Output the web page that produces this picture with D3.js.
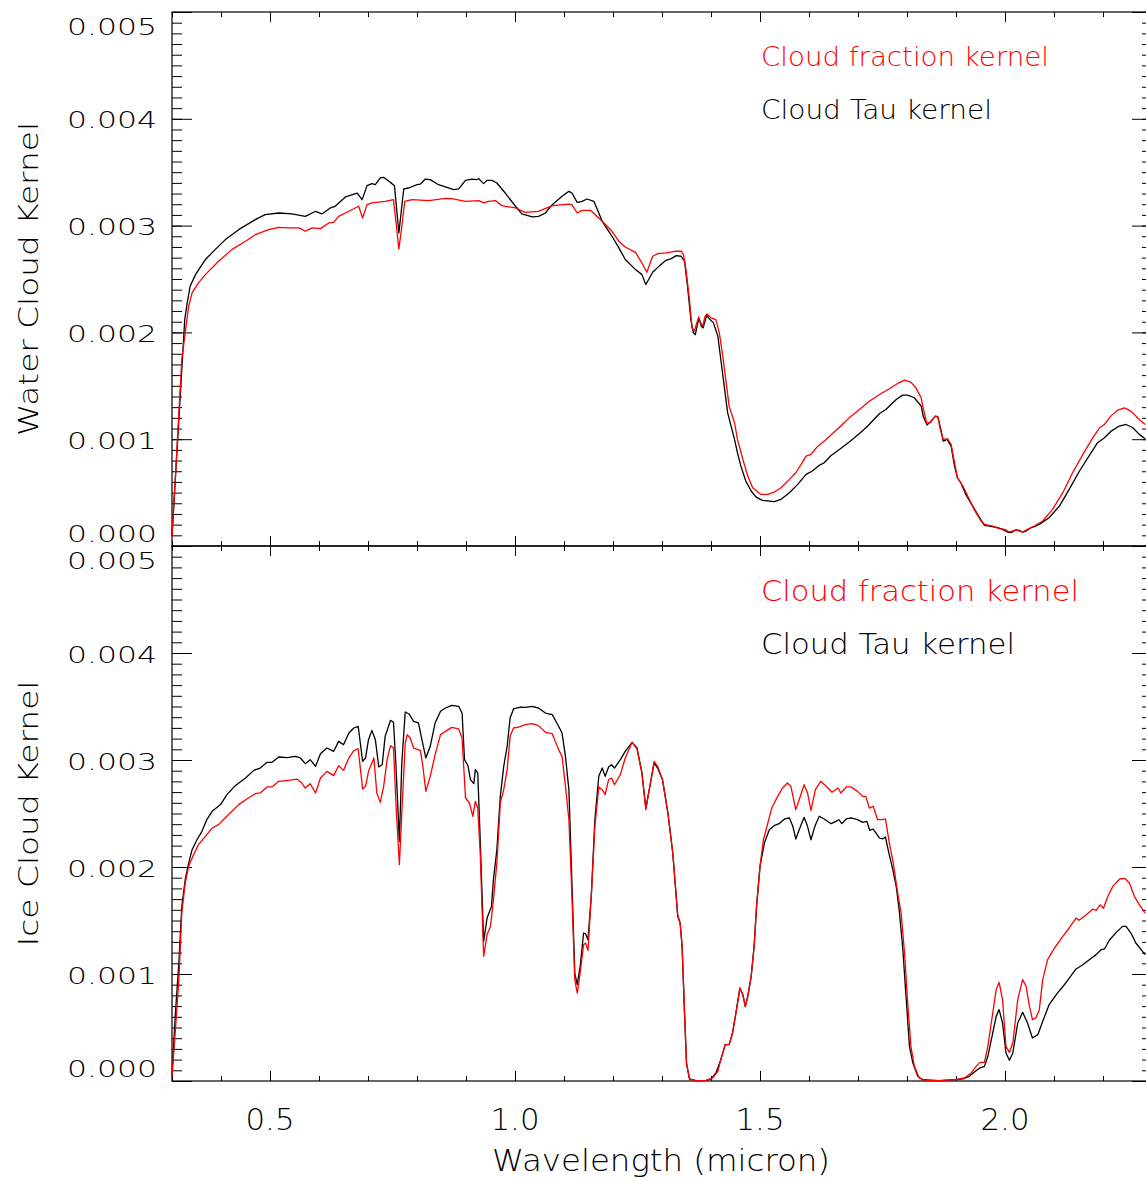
<!DOCTYPE html>
<html lang="en">
<head>
<meta charset="UTF-8">
<title>Cloud kernels</title>
<script src="https://cdn.jsdelivr.net/npm/d3@7"></script>
<style>
  body { margin: 0; background: #fff; }
  svg text { font-family: "DejaVu Sans", sans-serif; font-weight: 200; fill: #000; }
  .kernel { fill: none; stroke-width: 1.3px; stroke-linejoin: round; }
  .tick line { stroke: #000; stroke-width: 1px; }
  .frame { fill: none; stroke: #000; stroke-width: 1.2px; }
</style>
</head>
<body>
<svg width="1146" height="1182"></svg>
<script>

// [wavelength (micron), kernel]

var waterTau = [
  [0.300,0.000094],[0.326,0.002120],[0.331,0.002276],[0.337,0.002432],[0.348,0.002541],[0.368,0.002682],
  [0.388,0.002775],[0.409,0.002869],[0.436,0.002962],[0.470,0.003056],[0.490,0.003103],[0.518,0.003118],
  [0.545,0.003109],[0.572,0.003087],[0.593,0.003134],[0.606,0.003109],[0.623,0.003165],[0.633,0.003181],
  [0.654,0.003268],[0.678,0.003305],[0.688,0.003243],[0.698,0.003374],[0.708,0.003393],[0.715,0.003383],
  [0.725,0.003446],[0.732,0.003452],[0.749,0.003393],[0.754,0.003374],[0.763,0.002931],[0.769,0.003181],
  [0.773,0.003343],[0.783,0.003352],[0.800,0.003383],[0.807,0.003389],[0.817,0.003436],[0.827,0.003430],
  [0.844,0.003383],[0.875,0.003336],[0.885,0.003343],[0.899,0.003424],[0.912,0.003436],[0.922,0.003430],
  [0.926,0.003439],[0.936,0.003393],[0.943,0.003424],[0.953,0.003424],[0.963,0.003399],[0.980,0.003305],
  [1.001,0.003181],[1.014,0.003109],[1.035,0.003081],[1.048,0.003087],[1.062,0.003118],[1.076,0.003196],
  [1.096,0.003274],[1.110,0.003321],[1.116,0.003305],[1.127,0.003218],[1.137,0.003227],[1.147,0.003249],
  [1.161,0.003227],[1.178,0.003040],[1.198,0.002900],[1.212,0.002791],[1.225,0.002682],[1.246,0.002588],
  [1.259,0.002541],[1.267,0.002448],[1.281,0.002563],[1.295,0.002625],[1.308,0.002675],[1.318,0.002688],
  [1.329,0.002719],[1.339,0.002713],[1.346,0.002666],[1.352,0.002432],[1.359,0.002120],[1.364,0.001996],
  [1.368,0.001980],[1.373,0.002089],[1.376,0.002127],[1.380,0.002058],[1.384,0.002042],[1.391,0.002158],
  [1.397,0.002127],[1.405,0.002089],[1.414,0.001964],[1.420,0.001746],[1.427,0.001497],[1.434,0.001247],
  [1.441,0.001123],[1.448,0.000998],[1.454,0.000873],[1.461,0.000748],[1.471,0.000608],[1.482,0.000515],
  [1.492,0.000458],[1.505,0.000427],[1.529,0.000415],[1.543,0.000437],[1.560,0.000499],[1.577,0.000577],
  [1.594,0.000670],[1.607,0.000702],[1.621,0.000755],[1.631,0.000780],[1.645,0.000848],[1.662,0.000904],
  [1.682,0.000973],[1.703,0.001054],[1.720,0.001123],[1.744,0.001241],[1.757,0.001278],[1.778,0.001372],
  [1.791,0.001413],[1.801,0.001413],[1.815,0.001388],[1.829,0.001310],[1.833,0.001216],[1.841,0.001132],
  [1.849,0.001169],[1.858,0.001216],[1.863,0.001210],[1.869,0.001091],[1.874,0.000982],[1.882,0.000998],
  [1.890,0.000935],[1.897,0.000748],[1.903,0.000639],[1.910,0.000592],[1.920,0.000483],[1.934,0.000374],
  [1.948,0.000265],[1.958,0.000193],[1.968,0.000187],[1.985,0.000171],[1.995,0.000156],[2.005,0.000131],
  [2.012,0.000125],[2.022,0.000150],[2.029,0.000147],[2.036,0.000131],[2.043,0.000140],[2.053,0.000171],
  [2.063,0.000187],[2.073,0.000212],[2.090,0.000265],[2.111,0.000374],[2.131,0.000530],[2.152,0.000702],
  [2.169,0.000826],[2.189,0.000967],[2.203,0.001013],[2.217,0.001076],[2.233,0.001123],[2.247,0.001138],
  [2.261,0.001107],[2.274,0.001045],[2.286,0.001004]
];

var waterFraction = [
  [0.300,0.000094],[0.307,0.000655],[0.314,0.001247],[0.320,0.001746],[0.327,0.001996],[0.334,0.002245],
  [0.341,0.002370],[0.354,0.002463],[0.368,0.002541],[0.395,0.002666],[0.422,0.002775],[0.450,0.002853],
  [0.470,0.002915],[0.497,0.002962],[0.518,0.002984],[0.538,0.002978],[0.559,0.002978],[0.572,0.002947],
  [0.586,0.002978],[0.603,0.002972],[0.620,0.003025],[0.630,0.003031],[0.640,0.003087],[0.661,0.003134],
  [0.681,0.003181],[0.689,0.003071],[0.698,0.003196],[0.708,0.003212],[0.735,0.003227],[0.752,0.003243],
  [0.758,0.002993],[0.763,0.002781],[0.769,0.002993],[0.775,0.003227],[0.790,0.003243],[0.824,0.003234],
  [0.858,0.003255],[0.871,0.003252],[0.899,0.003227],[0.926,0.003234],[0.936,0.003212],[0.946,0.003227],
  [0.960,0.003234],[0.973,0.003187],[1.001,0.003165],[1.021,0.003124],[1.048,0.003134],[1.076,0.003187],
  [1.110,0.003202],[1.116,0.003196],[1.127,0.003118],[1.137,0.003143],[1.154,0.003143],[1.178,0.003040],
  [1.198,0.002947],[1.212,0.002853],[1.225,0.002800],[1.246,0.002750],[1.259,0.002650],[1.269,0.002563],
  [1.281,0.002713],[1.291,0.002738],[1.308,0.002744],[1.329,0.002760],[1.339,0.002760],[1.344,0.002728],
  [1.349,0.002588],[1.356,0.002307],[1.361,0.002042],[1.366,0.002011],[1.371,0.002089],[1.375,0.002145],
  [1.378,0.002095],[1.383,0.002058],[1.388,0.002152],[1.392,0.002173],[1.400,0.002136],[1.410,0.002120],
  [1.417,0.001996],[1.424,0.001777],[1.431,0.001528],[1.437,0.001310],[1.448,0.001154],[1.454,0.000998],
  [1.465,0.000811],[1.475,0.000655],[1.485,0.000546],[1.502,0.000483],[1.516,0.000483],[1.529,0.000505],
  [1.543,0.000546],[1.560,0.000624],[1.573,0.000686],[1.584,0.000764],[1.594,0.000842],[1.604,0.000858],
  [1.618,0.000935],[1.635,0.000998],[1.648,0.001054],[1.665,0.001123],[1.682,0.001200],[1.703,0.001278],
  [1.723,0.001356],[1.744,0.001419],[1.764,0.001472],[1.781,0.001522],[1.795,0.001553],[1.808,0.001534],
  [1.818,0.001481],[1.829,0.001388],[1.833,0.001294],[1.840,0.001154],[1.847,0.001154],[1.858,0.001216],
  [1.863,0.001210],[1.868,0.001091],[1.874,0.000998],[1.883,0.001004],[1.890,0.000951],[1.897,0.000780],
  [1.903,0.000639],[1.914,0.000561],[1.924,0.000468],[1.937,0.000343],[1.951,0.000234],[1.958,0.000203],
  [1.975,0.000187],[1.988,0.000162],[1.999,0.000156],[2.009,0.000131],[2.022,0.000150],[2.036,0.000131],
  [2.046,0.000156],[2.060,0.000187],[2.077,0.000234],[2.097,0.000343],[2.118,0.000499],[2.138,0.000686],
  [2.159,0.000858],[2.179,0.001013],[2.193,0.001107],[2.203,0.001138],[2.216,0.001216],[2.230,0.001272],
  [2.244,0.001294],[2.257,0.001263],[2.274,0.001185],[2.286,0.001138]
];

var iceTau = [
  [0.300,0.000044],[0.307,0.000636],[0.314,0.001103],[0.320,0.001632],[0.327,0.001882],[0.334,0.002037],
  [0.341,0.002162],[0.351,0.002255],[0.361,0.002333],[0.371,0.002442],[0.382,0.002520],[0.399,0.002583],
  [0.412,0.002676],[0.429,0.002760],[0.450,0.002832],[0.467,0.002903],[0.480,0.002925],[0.494,0.002978],
  [0.504,0.002978],[0.518,0.003028],[0.535,0.003022],[0.552,0.003034],[0.562,0.003019],[0.572,0.002966],
  [0.582,0.003003],[0.593,0.002941],[0.603,0.003059],[0.616,0.003112],[0.630,0.003081],[0.640,0.003174],
  [0.650,0.003143],[0.661,0.003252],[0.671,0.003299],[0.680,0.003315],[0.689,0.002988],[0.695,0.003019],
  [0.701,0.003190],[0.708,0.003277],[0.715,0.003190],[0.722,0.002935],[0.729,0.002956],[0.735,0.003221],
  [0.746,0.003371],[0.752,0.003352],[0.757,0.002956],[0.764,0.002240],[0.769,0.002972],[0.776,0.003449],
  [0.784,0.003430],[0.793,0.003361],[0.803,0.003346],[0.810,0.003190],[0.818,0.003019],[0.827,0.003128],
  [0.837,0.003346],[0.848,0.003455],[0.858,0.003486],[0.871,0.003511],[0.885,0.003502],[0.892,0.003439],
  [0.897,0.003003],[0.904,0.002947],[0.909,0.002816],[0.916,0.002779],[0.919,0.002910],[0.924,0.002879],
  [0.929,0.002255],[0.936,0.001305],[0.943,0.001523],[0.952,0.001632],[0.956,0.001882],[0.963,0.002162],
  [0.970,0.002660],[0.977,0.002941],[0.984,0.003128],[0.990,0.003393],[0.997,0.003477],[1.011,0.003495],
  [1.021,0.003492],[1.035,0.003502],[1.048,0.003486],[1.062,0.003439],[1.076,0.003424],[1.089,0.003315],
  [1.096,0.003252],[1.103,0.003034],[1.110,0.002723],[1.116,0.001882],[1.122,0.001009],[1.127,0.000900],
  [1.133,0.001072],[1.140,0.001383],[1.144,0.001377],[1.149,0.001321],[1.156,0.001757],[1.163,0.002442],
  [1.171,0.002847],[1.178,0.002925],[1.184,0.002847],[1.191,0.002935],[1.197,0.002956],[1.203,0.002925],
  [1.215,0.003003],[1.225,0.003081],[1.239,0.003165],[1.249,0.003112],[1.259,0.002879],[1.267,0.002551],
  [1.284,0.002972],[1.291,0.002925],[1.301,0.002816],[1.312,0.002505],[1.322,0.002131],[1.329,0.001726],
  [1.332,0.001539],[1.337,0.001477],[1.341,0.001259],[1.346,0.000636],[1.350,0.000168],[1.356,0.000019],
  [1.369,0.000003],[1.390,0.000006],[1.400,0.000019],[1.410,0.000075],[1.420,0.000199],[1.429,0.000340],
  [1.437,0.000340],[1.444,0.000449],[1.452,0.000667],[1.459,0.000869],[1.465,0.000807],[1.470,0.000698],
  [1.475,0.000791],[1.482,0.000978],[1.488,0.001259],[1.493,0.001632],[1.500,0.002006],[1.509,0.002224],
  [1.519,0.002349],[1.529,0.002386],[1.539,0.002405],[1.550,0.002449],[1.560,0.002458],[1.567,0.002380],
  [1.573,0.002262],[1.580,0.002349],[1.590,0.002464],[1.597,0.002380],[1.604,0.002255],[1.612,0.002380],
  [1.621,0.002474],[1.631,0.002449],[1.645,0.002405],[1.655,0.002427],[1.661,0.002442],[1.667,0.002405],
  [1.676,0.002449],[1.686,0.002458],[1.699,0.002442],[1.710,0.002417],[1.718,0.002427],[1.724,0.002343],
  [1.731,0.002355],[1.744,0.002271],[1.750,0.002262],[1.756,0.002280],[1.763,0.002131],[1.771,0.001975],
  [1.778,0.001819],[1.784,0.001601],[1.791,0.001259],[1.798,0.000791],[1.805,0.000324],[1.812,0.000168],
  [1.822,0.000044],[1.832,0.000012],[1.866,0.000003],[1.900,0.000012],[1.914,0.000019],[1.927,0.000044],
  [1.937,0.000081],[1.948,0.000121],[1.958,0.000137],[1.965,0.000231],[1.975,0.000449],[1.982,0.000604],
  [1.988,0.000667],[1.995,0.000542],[2.002,0.000262],[2.009,0.000193],[2.016,0.000262],[2.026,0.000542],
  [2.036,0.000642],[2.046,0.000542],[2.056,0.000402],[2.067,0.000433],[2.077,0.000558],[2.090,0.000713],
  [2.107,0.000822],[2.124,0.000916],[2.145,0.001047],[2.159,0.001087],[2.172,0.001134],[2.186,0.001181],
  [2.196,0.001227],[2.203,0.001234],[2.213,0.001315],[2.227,0.001389],[2.240,0.001445],[2.247,0.001445],
  [2.257,0.001383],[2.267,0.001290],[2.286,0.001181]
];

var iceFraction = [
  [0.300,0.000044],[0.307,0.000480],[0.314,0.000947],[0.320,0.001570],[0.327,0.001850],[0.334,0.002006],
  [0.344,0.002115],[0.354,0.002209],[0.368,0.002287],[0.382,0.002364],[0.395,0.002396],[0.412,0.002474],
  [0.436,0.002583],[0.456,0.002645],[0.470,0.002685],[0.480,0.002692],[0.494,0.002748],[0.504,0.002748],
  [0.518,0.002801],[0.538,0.002810],[0.555,0.002822],[0.565,0.002785],[0.572,0.002738],[0.582,0.002779],
  [0.593,0.002692],[0.603,0.002832],[0.616,0.002894],[0.630,0.002854],[0.640,0.002947],[0.650,0.002903],
  [0.661,0.003019],[0.671,0.003087],[0.680,0.003103],[0.689,0.002729],[0.695,0.002754],[0.701,0.002894],
  [0.712,0.003019],[0.718,0.002692],[0.725,0.002604],[0.732,0.002754],[0.739,0.003003],[0.746,0.003134],
  [0.752,0.003112],[0.758,0.002505],[0.764,0.002022],[0.769,0.002505],[0.776,0.003159],[0.780,0.003237],
  [0.786,0.003206],[0.793,0.003112],[0.807,0.003090],[0.812,0.002941],[0.818,0.002707],[0.827,0.002847],
  [0.837,0.003050],[0.848,0.003237],[0.858,0.003268],[0.871,0.003305],[0.885,0.003290],[0.892,0.003206],
  [0.899,0.002645],[0.907,0.002598],[0.914,0.002474],[0.919,0.002614],[0.924,0.002551],[0.929,0.002131],
  [0.936,0.001165],[0.943,0.001368],[0.950,0.001445],[0.956,0.001695],[0.963,0.002037],[0.970,0.002598],
  [0.977,0.002723],[0.984,0.002910],[0.990,0.003221],[0.997,0.003299],[1.007,0.003308],[1.021,0.003330],
  [1.035,0.003340],[1.048,0.003321],[1.062,0.003259],[1.076,0.003246],[1.089,0.003097],[1.096,0.003034],
  [1.103,0.002754],[1.110,0.002442],[1.116,0.001757],[1.122,0.000947],[1.127,0.000822],[1.133,0.001009],
  [1.140,0.001274],[1.144,0.001290],[1.149,0.001221],[1.156,0.001757],[1.163,0.002380],[1.171,0.002748],
  [1.178,0.002723],[1.184,0.002676],[1.191,0.002816],[1.197,0.002832],[1.203,0.002769],[1.215,0.002863],
  [1.225,0.003019],[1.239,0.003165],[1.249,0.003103],[1.259,0.002879],[1.267,0.002536],[1.284,0.002988],
  [1.291,0.002941],[1.301,0.002816],[1.312,0.002505],[1.322,0.002131],[1.329,0.001726],[1.332,0.001555],
  [1.337,0.001477],[1.341,0.001259],[1.346,0.000636],[1.350,0.000168],[1.356,0.000019],[1.369,0.000003],
  [1.390,0.000006],[1.403,0.000028],[1.414,0.000090],[1.420,0.000199],[1.429,0.000340],[1.437,0.000340],
  [1.444,0.000449],[1.452,0.000667],[1.459,0.000869],[1.465,0.000807],[1.470,0.000692],[1.475,0.000791],
  [1.482,0.000978],[1.488,0.001259],[1.493,0.001632],[1.500,0.002006],[1.507,0.002255],[1.516,0.002411],
  [1.524,0.002551],[1.536,0.002660],[1.546,0.002738],[1.556,0.002785],[1.563,0.002754],[1.573,0.002536],
  [1.580,0.002629],[1.590,0.002769],[1.597,0.002692],[1.604,0.002530],[1.613,0.002723],[1.624,0.002801],
  [1.635,0.002754],[1.647,0.002698],[1.659,0.002738],[1.665,0.002692],[1.676,0.002748],[1.686,0.002748],
  [1.699,0.002707],[1.710,0.002660],[1.716,0.002660],[1.723,0.002551],[1.731,0.002567],[1.740,0.002442],
  [1.750,0.002442],[1.756,0.002449],[1.764,0.002224],[1.772,0.002037],[1.781,0.001757],[1.788,0.001570],
  [1.795,0.001196],[1.801,0.000760],[1.808,0.000324],[1.815,0.000137],[1.825,0.000028],[1.839,0.000003],
  [1.866,0.000003],[1.900,0.000012],[1.917,0.000028],[1.931,0.000075],[1.941,0.000137],[1.949,0.000174],
  [1.958,0.000174],[1.965,0.000324],[1.975,0.000636],[1.982,0.000854],[1.988,0.000922],[1.995,0.000760],
  [2.002,0.000324],[2.009,0.000268],[2.016,0.000355],[2.026,0.000760],[2.036,0.000947],[2.043,0.000885],
  [2.050,0.000698],[2.056,0.000573],[2.063,0.000589],[2.070,0.000667],[2.077,0.000947],[2.087,0.001134],
  [2.101,0.001243],[2.118,0.001352],[2.131,0.001430],[2.145,0.001523],[2.151,0.001502],[2.162,0.001539],
  [2.172,0.001576],[2.179,0.001607],[2.186,0.001595],[2.194,0.001645],[2.201,0.001614],[2.210,0.001726],
  [2.220,0.001819],[2.234,0.001888],[2.244,0.001894],[2.254,0.001850],[2.264,0.001726],[2.274,0.001648],
  [2.286,0.001570]
];

var xTickValues = [0.5, 1.0, 1.5, 2.0];
var xTickLabels = ["0.5", "1.0", "1.5", "2.0"];
var yTickValues = [0, 0.001, 0.002, 0.003, 0.004, 0.005];
var yTickLabels = ["0.000", "0.001", "0.002", "0.003", "0.004", "0.005"];

var seriesNames = ["Cloud fraction kernel", "Cloud Tau kernel"];
var seriesColors = ["#ff0000", "#000000"];

var svg = d3.select("svg");

var x = d3.scaleLinear().domain([0.3, 2.3]).range([172, 1152]);
var left = 172, right = 1152;

var panels = [
    { top: 12,  bottom: 546,  title: "Water Cloud Kernel", frac: waterFraction, tau: waterTau,
      legendY: [66, 119], legendSize: 26, legendW: [288, 231], titleLen: 314 },
    { top: 546, bottom: 1081, title: "Ice Cloud Kernel",   frac: iceFraction,   tau: iceTau,
      legendY: [601, 654], legendSize: 28, legendW: [318, 254], titleLen: 266 }
];

panels.forEach(function(p, pi) {

    var y = d3.scaleLinear().domain([0, 0.005]).range([p.bottom, p.top]);
    var g = svg.append("g");

    // minor and major ticks on all four sides
    function ticks(axis, tr) {
        var a = g.append("g").attr("transform", tr).call(axis);
        a.select(".domain").remove();
        a.selectAll("text").remove();
    }

    ticks(d3.axisRight(y).tickValues(y.ticks(50)).tickSize(10).tickSizeOuter(0), "translate(" + left + ",0)");
    ticks(d3.axisRight(y).tickValues(yTickValues).tickSize(20).tickSizeOuter(0), "translate(" + left + ",0)");
    ticks(d3.axisLeft(y).tickValues(y.ticks(50)).tickSize(10).tickSizeOuter(0), "translate(" + right + ",0)");
    ticks(d3.axisLeft(y).tickValues(yTickValues).tickSize(20).tickSizeOuter(0), "translate(" + right + ",0)");

    ticks(d3.axisTop(x).tickValues(x.ticks(20)).tickSize(5).tickSizeOuter(0), "translate(0," + p.bottom + ")");
    ticks(d3.axisTop(x).tickValues(xTickValues).tickSize(10).tickSizeOuter(0), "translate(0," + p.bottom + ")");
    ticks(d3.axisBottom(x).tickValues(x.ticks(20)).tickSize(5).tickSizeOuter(0), "translate(0," + p.top + ")");
    ticks(d3.axisBottom(x).tickValues(xTickValues).tickSize(10).tickSizeOuter(0), "translate(0," + p.top + ")");

    g.append("rect").attr("class", "frame")
        .attr("x", left).attr("y", p.top)
        .attr("width", right - left).attr("height", p.bottom - p.top);

    // y tick labels, end labels pulled inside like the original
    g.selectAll(".ylab")
        .data(yTickValues)
        .enter().append("text")
        .attr("class", "ylab")
        .attr("x", 157)
        .attr("y", function(d) {
            var shift = d === 0.005 ? 14 : (d === 0 ? -13 : 1);
            return y(d) + shift + 8.5;
        })
        .attr("text-anchor", "end")
        .attr("font-size", 23)
        .attr("textLength", 90)
        .attr("lengthAdjust", "spacingAndGlyphs")
        .text(function(d, i) { return yTickLabels[i]; });

    // y title
    g.append("text")
        .attr("transform", "translate(38," + ((p.top + p.bottom) / 2) + ") rotate(-90)")
        .attr("text-anchor", "middle")
        .attr("font-size", 26)
        .attr("textLength", p.titleLen)
        .attr("lengthAdjust", "spacingAndGlyphs")
        .text(p.title);

    // curves: tau first, fraction on top
    var line = d3.line()
        .x(function(d) { return x(d[0]); })
        .y(function(d) { return y(d[1]); });

    g.append("path").datum(p.tau).attr("class", "kernel")
        .attr("stroke", seriesColors[1]).attr("d", line);
    g.append("path").datum(p.frac).attr("class", "kernel")
        .attr("stroke", seriesColors[0]).attr("d", line);

    // legend
    seriesNames.forEach(function(name, i) {
        g.append("text")
            .attr("x", 761)
            .attr("y", p.legendY[i])
            .attr("font-size", p.legendSize)
            .attr("textLength", p.legendW[i])
            .attr("lengthAdjust", "spacingAndGlyphs")
            .style("fill", seriesColors[i])
            .text(name);
    });
});

// x tick labels and title
svg.selectAll(".xlab")
    .data(xTickValues)
    .enter().append("text")
    .attr("class", "xlab")
    .attr("x", function(d) { return x(d); })
    .attr("y", 1130)
    .attr("text-anchor", "middle")
    .attr("font-size", 30)
    .attr("textLength", 49)
    .attr("lengthAdjust", "spacingAndGlyphs")
    .text(function(d, i) { return xTickLabels[i]; });

svg.append("text")
    .attr("x", (left + right) / 2 - 1)
    .attr("y", 1171)
    .attr("text-anchor", "middle")
    .attr("font-size", 30)
    .attr("textLength", 338)
    .attr("lengthAdjust", "spacingAndGlyphs")
    .text("Wavelength (micron)");

</script>
</body>
</html>
